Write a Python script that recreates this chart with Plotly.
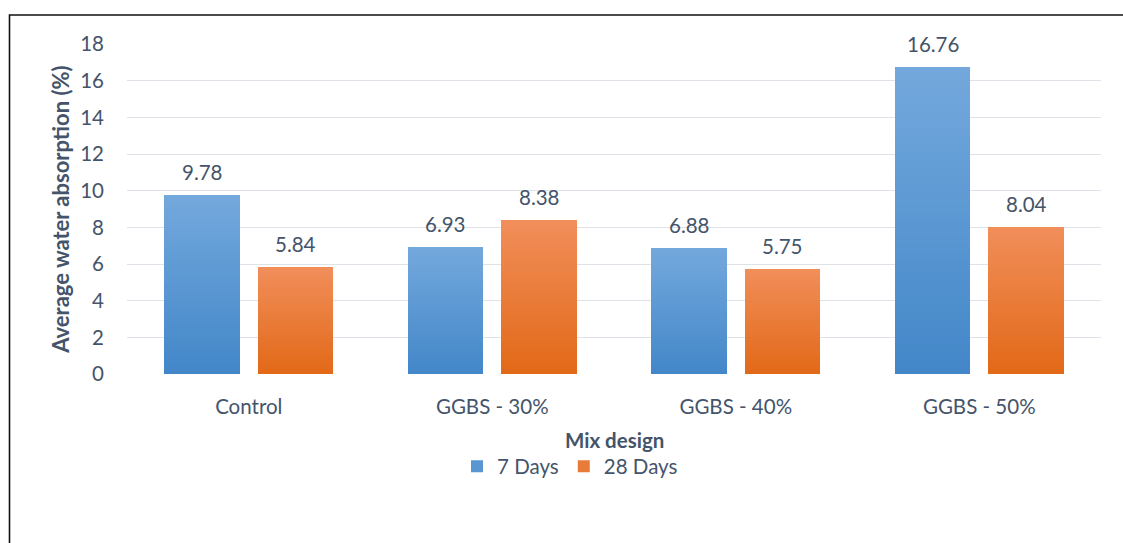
import plotly.graph_objects as go

# Data
mix_designs = ["Control", "GGBS - 30%", "GGBS - 40%", "GGBS - 50%"]
days_7 = [9.78, 6.93, 6.88, 16.76]
days_28 = [5.84, 8.38, 5.75, 8.04]
y_ticks = [0, 2, 4, 6, 8, 10, 12, 14, 16, 18]

W, H = 1123, 543
L, R, T, B = 127, 22, 44, 169
TEXT = "#44546A"
FONT = "Lato"

series = [
    # name, values, offset, top colour, bottom colour
    ("7 Days", days_7, -0.348, (0x73, 0xA8, 0xDC), (0x43, 0x87, 0xC9)),
    ("28 Days", days_28, 0.036, (0xF1, 0x8E, 0x5A), (0xE2, 0x69, 0x18)),
]
BAR_W = 0.312
LAYERS = 40


def mix(c1, c2, t):
    return "rgb({},{},{})".format(*[round(a + (b - a) * t) for a, b in zip(c1, c2)])


fig = go.Figure()
xs = list(range(len(mix_designs)))

# Each bar is built from stacked-down layers (tallest first) for a vertical gradient
for name, vals, off, top_c, bot_c in series:
    for k in range(LAYERS):
        frac = (LAYERS - k) / LAYERS
        fig.add_trace(go.Bar(
            x=xs, y=[v * frac for v in vals],
            offset=off, width=BAR_W,
            marker=dict(color=mix(top_c, bot_c, k / (LAYERS - 1)), line=dict(width=0)),
            name=name, legendgroup=name,
            showlegend=(k == LAYERS // 2),
            hoverinfo="skip",
        ))
    for i, v in enumerate(vals):
        fig.add_annotation(
            x=i + off + BAR_W / 2, y=v, text=f"{v:.2f}", showarrow=False,
            yanchor="bottom", yshift=9, font=dict(family=FONT, size=20.5, color=TEXT),
        )

# Axis titles
fig.add_annotation(
    xref="paper", yref="paper", x=0.5, y=(374.5 - 441) / 330.5, text="<b>Mix design</b>",
    showarrow=False, xanchor="center", yanchor="middle",
    font=dict(family=FONT, size=20.5, color=TEXT),
)
fig.add_annotation(
    xref="paper", yref="paper", x=(61 - L) / 974, y=(374.5 - 210) / 330.5,
    text="<b>Average water absorption (%)</b>", textangle=-90,
    showarrow=False, xanchor="center", yanchor="middle",
    font=dict(family=FONT, size=22, color=TEXT),
)

# Outer frame
fig.add_shape(
    type="rect", xref="paper", yref="paper",
    x0=(9.5 - L) / 974, x1=(1135 - L) / 974,
    y0=(374.5 - 580) / 330.5, y1=(374.5 - 15) / 330.5,
    line=dict(color="#111111", width=1.6), fillcolor="rgba(0,0,0,0)", layer="below",
)

fig.update_layout(
    width=W, height=H, margin=dict(l=L, r=R, t=T, b=B),
    paper_bgcolor="white", plot_bgcolor="white",
    barmode="overlay", bargap=0,
    font=dict(family=FONT, size=20, color=TEXT),
    showlegend=True,
    legend=dict(
        orientation="h", x=(457 - L) / 974, y=(374.5 - 467) / 330.5,
        xanchor="left", yanchor="middle", font=dict(family=FONT, size=20.5, color=TEXT),
        bgcolor="rgba(0,0,0,0)", itemclick=False, itemdoubleclick=False,
    ),
    xaxis=dict(
        range=[-0.5, len(mix_designs) - 0.5], tickmode="array",
        tickvals=xs, ticktext=mix_designs, showgrid=False, zeroline=False,
        showline=False, ticks="", ticklabelstandoff=18,
        tickfont=dict(family=FONT, size=20.5, color=TEXT),
    ),
    yaxis=dict(
        range=[0, 18], tickmode="array", tickvals=y_ticks,
        showgrid=True, gridcolor="#DFE3E9", gridwidth=1.4,
        zeroline=False, showline=False, ticks="", ticklabelstandoff=22,
        tickfont=dict(family=FONT, size=20.5, color=TEXT),
    ),
)

fig.write_html("out.html")
